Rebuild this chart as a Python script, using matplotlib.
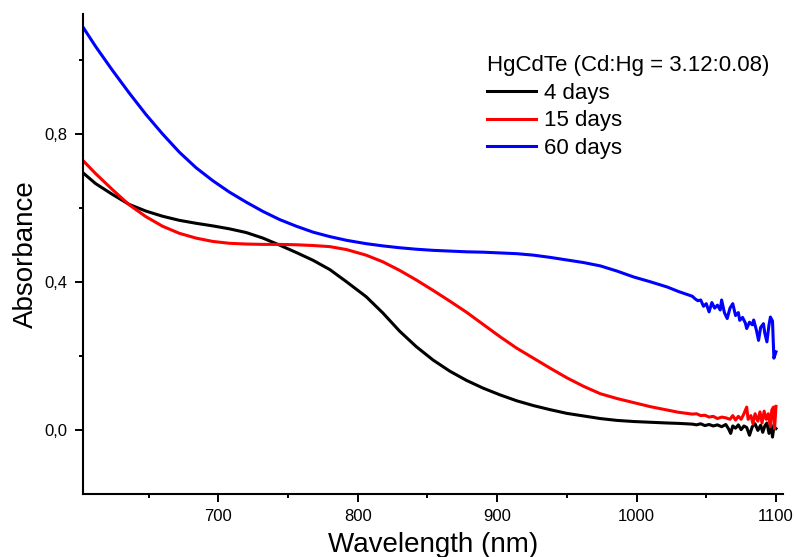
import matplotlib
matplotlib.use("Agg")
import matplotlib.pyplot as plt
from matplotlib.ticker import MultipleLocator, FuncFormatter

plt.rcParams['font.family'] = ['Liberation Sans', 'DejaVu Sans']

# ---- data ----
wl_4d = [603, 612, 624, 636, 648, 660, 672, 684, 696, 708, 720, 732, 744, 756, 768, 780,
         792, 806, 818, 830, 842, 854, 866, 878, 890, 902, 914, 926, 938, 950, 962, 974,
         986, 998, 1010, 1022, 1030,
         1040, 1043, 1046, 1049, 1052, 1055, 1058, 1061, 1064, 1066, 1067.5, 1069, 1071, 1073,
         1075, 1077, 1079, 1081, 1083, 1085, 1087, 1089, 1090.5, 1092, 1093.5, 1095, 1096.5,
         1097.5, 1098.5, 1100]
abs_4d = [0.695, 0.666, 0.637, 0.610, 0.592, 0.578, 0.567, 0.559, 0.552, 0.544, 0.534, 0.519,
          0.500, 0.480, 0.459, 0.434, 0.401, 0.361, 0.317, 0.268, 0.226, 0.190, 0.160, 0.135,
          0.114, 0.096, 0.080, 0.067, 0.056, 0.046, 0.039, 0.032, 0.027, 0.024, 0.022, 0.020,
          0.019,
          0.017, 0.015, 0.018, 0.013, 0.016, 0.012, 0.015, 0.010, 0.016, 0.004, -0.008, 0.012,
          0.006, 0.015, 0.002, 0.012, 0.008, -0.013, 0.010, 0.018, 0.000, 0.014, -0.005, 0.012,
          0.020, -0.008, 0.015, -0.018, 0.010, 0.005]

wl_15d = [603, 612, 624, 636, 648, 660, 672, 684, 696, 708, 720, 732, 744, 756, 768, 780,
          792, 806, 818, 830, 842, 854, 866, 878, 890, 902, 914, 926, 938, 950, 962, 974,
          986, 998, 1010, 1022, 1030,
          1040, 1043, 1046, 1049, 1052, 1055, 1058, 1061, 1064, 1067, 1069, 1071, 1073, 1075,
          1077, 1079, 1080, 1082, 1083.5, 1085, 1087, 1088.5, 1090, 1091.5, 1093, 1094.5, 1096,
          1097, 1098.2, 1099, 1100]
abs_15d = [0.728, 0.693, 0.650, 0.609, 0.577, 0.551, 0.532, 0.519, 0.510, 0.505, 0.503, 0.502,
           0.502, 0.501, 0.499, 0.496, 0.488, 0.473, 0.455, 0.432, 0.406, 0.378, 0.349, 0.319,
           0.286, 0.253, 0.222, 0.195, 0.168, 0.142, 0.119, 0.099, 0.086, 0.075, 0.064, 0.055,
           0.049,
           0.044, 0.045, 0.040, 0.041, 0.036, 0.038, 0.032, 0.036, 0.034, 0.030, 0.040, 0.028,
           0.038, 0.030, 0.045, 0.063, 0.030, 0.040, 0.018, 0.045, 0.025, 0.050, 0.020, 0.052,
           0.030, 0.045, 0.010, 0.055, 0.063, 0.005, 0.065]

wl_60d = [603, 612, 624, 636, 648, 660, 672, 684, 696, 708, 720, 732, 744, 756, 768, 780,
          792, 806, 818, 830, 842, 854, 866, 878, 890, 902, 914, 926, 938, 950, 962, 974,
          986, 998, 1010, 1022, 1030,
          1040, 1042, 1044, 1046, 1048, 1050, 1052, 1054, 1056, 1058, 1060, 1061, 1063, 1065,
          1067, 1069, 1071, 1073, 1074, 1076, 1078, 1079, 1081, 1083, 1084, 1086, 1087.5, 1089,
          1091, 1092, 1093.5, 1095, 1096, 1097.5, 1098.5, 1100]
abs_60d = [1.088, 1.036, 0.972, 0.911, 0.853, 0.800, 0.751, 0.709, 0.674, 0.643, 0.616, 0.591,
           0.569, 0.551, 0.535, 0.523, 0.513, 0.504, 0.498, 0.493, 0.489, 0.486, 0.484, 0.482,
           0.481, 0.479, 0.477, 0.473, 0.467, 0.460, 0.453, 0.444, 0.430, 0.414, 0.401, 0.387,
           0.375,
           0.362, 0.355, 0.350, 0.352, 0.335, 0.342, 0.320, 0.345, 0.330, 0.338, 0.325, 0.352,
           0.318, 0.302, 0.330, 0.342, 0.310, 0.318, 0.297, 0.305, 0.290, 0.275, 0.292, 0.285,
           0.298, 0.270, 0.243, 0.278, 0.288, 0.262, 0.239, 0.285, 0.306, 0.295, 0.195, 0.212]

series_labels = ['4 days', '15 days', '60 days']
series_colors = ['#000000', '#ff0000', '#0000ff']
legend_title = 'HgCdTe (Cd:Hg = 3.12:0.08)'

# ---- figure ----
fig = plt.figure(figsize=(7.95, 5.57), dpi=100)
ax = fig.add_axes([0.104, 0.1135, 0.8805, 0.8615])

for wl, a, lab, col in zip([wl_4d, wl_15d, wl_60d], [abs_4d, abs_15d, abs_60d],
                           series_labels, series_colors):
    ax.plot(wl, a, color=col, lw=2.2, label=lab)

ax.set_xlim(602.7, 1104.8)
ax.set_ylim(-0.171, 1.124)
ax.xaxis.set_major_locator(MultipleLocator(100))
ax.xaxis.set_minor_locator(MultipleLocator(50))
ax.yaxis.set_major_locator(MultipleLocator(0.4))
ax.yaxis.set_minor_locator(MultipleLocator(0.2))
ax.yaxis.set_major_formatter(FuncFormatter(lambda v, p: f"{v:.1f}".replace('.', ',').replace('-0,0', '0,0')))

for s in ['top', 'right']:
    ax.spines[s].set_visible(False)
for s in ['left', 'bottom']:
    ax.spines[s].set_linewidth(1.5)
ax.tick_params(which='major', direction='out', length=6, width=1.4, labelsize=12, pad=5)
ax.tick_params(which='minor', direction='out', length=3, width=1.4)

ax.set_xlabel('Wavelength (nm)', fontsize=20, labelpad=6)
ax.set_ylabel('Absorbance', fontsize=20, labelpad=4)

leg = ax.legend(title=legend_title, loc='upper left', bbox_to_anchor=(487 / 795, 1 - 55 / 557),
                bbox_transform=fig.transFigure, frameon=False, fontsize=16, title_fontsize=16,
                borderpad=0, borderaxespad=0, handlelength=2.2, handletextpad=0.35,
                labelspacing=0.3, alignment='left')

fig.savefig('out.png', dpi=100)
